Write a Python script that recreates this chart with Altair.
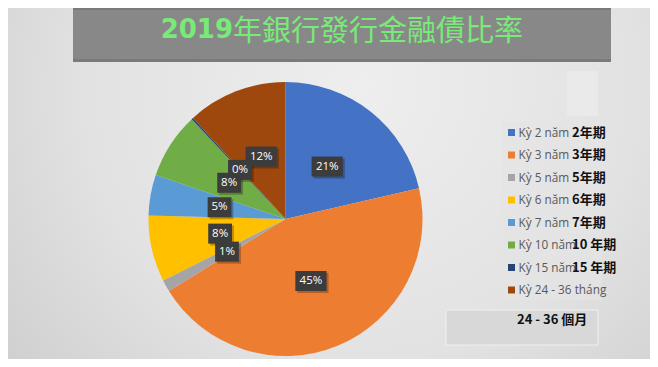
import altair as alt
import pandas as pd

# ---- data ----
categories = ["Kỳ 2 năm", "Kỳ 3 năm", "Kỳ 5 năm", "Kỳ 6 năm", "Kỳ 7 năm",
              "Kỳ 10 năm", "Kỳ 15 năm", "Kỳ 24 - 36 tháng"]
values = [21.4, 44.8, 1.4, 7.8, 4.8, 7.8, 0.2, 11.8]
colors = ["#4472C4", "#ED7D31", "#A5A5A5", "#FFC000", "#5B9BD5",
          "#70AD47", "#264478", "#9E480E"]
cn_labels = ["2年期", "3年期", "5年期", "6年期", "7年期", "10 年期", "15 年期", ""]
title_num = "2019"
title_cn = "年銀行發行金融債比率"
note_text = "24 - 36 個月"

# ---- layout constants ----
W, H = 642, 351
CX, CY, R, LR = 277.5, 211, 137, 67

df = pd.DataFrame({"cat": categories, "value": values,
                   "idx": list(range(len(categories))), "cn": cn_labels})

xs = alt.Scale(domain=[0, W], range=[0, W])
ys = alt.Scale(domain=[0, H], range=[0, H])
lys = alt.Scale(type="point", domain=categories, range=[124.5, 282], padding=0)
cscale = alt.Scale(domain=categories, range=colors)
one = alt.Data(values=[{}])


def box(x1, y1, x2, y2, **kw):
    return alt.Chart(one).mark_rect(**kw).encode(
        x=alt.value(x1), x2=alt.value(x2), y=alt.value(y1), y2=alt.value(y2))


bg = alt.Chart(one).mark_rect(
    color=alt.RadialGradient(
        gradient="radial",
        stops=[alt.GradientStop(color="#eeeeee", offset=0),
               alt.GradientStop(color="#e2e2e2", offset=0.55),
               alt.GradientStop(color="#cacaca", offset=1)],
        x1=0.55, y1=0.35, r1=0, x2=0.55, y2=0.35, r2=0.78)
).encode(x=alt.value(0), x2=alt.value(W), y=alt.value(0), y2=alt.value(H))

banner = box(65, 0, 603, 54, color="#888888")
banner_top = box(65, 0, 603, 2, color="#7a7a7a")
banner_bot = box(65, 51, 603, 54, color="#7a7a7a")
small_box = box(559, 63, 590, 108, color="#ebebeb", opacity=0.8)
legend_panel = box(494, 114, 594, 292, color="#e4e4e4", opacity=0.7)
note_box = box(438, 302, 590, 337, color="#d8d8d8", stroke="#f0f0f0", strokeWidth=1)

title1 = alt.Chart(one).mark_text(
    text=title_num, align="right", baseline="alphabetic", font="DejaVu Sans",
    fontWeight="bold", fontSize=26, color="#78ea78"
).encode(x=alt.value(225), y=alt.value(30))
title2 = alt.Chart(one).mark_text(
    text=title_cn, align="left", baseline="alphabetic", font="Noto Sans CJK TC",
    fontSize=29, color="#78ea78"
).encode(x=alt.value(225), y=alt.value(33))

pie = alt.Chart(df).mark_arc(outerRadius=R).encode(
    theta=alt.Theta("value:Q", stack=True),
    order=alt.Order("idx:Q"),
    color=alt.Color("cat:N", scale=cscale, legend=None),
    x=alt.value(CX), y=alt.value(CY))

lab_base = (alt.Chart(df)
            .transform_joinaggregate(total="sum(value)")
            .transform_window(cum="sum(value)", sort=[alt.SortField("idx")], frame=[None, 0])
            .transform_calculate(mid="(datum.cum - datum.value/2)/datum.total*2*PI")
            .transform_calculate(lx=f"{CX} + {LR}*sin(datum.mid)")
            .transform_calculate(ly=f"{CY} - {LR}*cos(datum.mid)")
            .transform_calculate(pct="format(datum.value/datum.total, '.0%')")
            .transform_calculate(hw="4.5 + 3.7*length(datum.pct)")
            .transform_calculate(bx1="datum.lx - datum.hw", bx2="datum.lx + datum.hw",
                                 by1="datum.ly - 10", by2="datum.ly + 10")
            .transform_calculate(sx1="datum.bx1 + 2", sx2="datum.bx2 + 2",
                                 sy1="datum.by1 + 2", sy2="datum.by2 + 2"))

lab_shadow = lab_base.mark_rect(color="#000000", opacity=0.25).encode(
    x=alt.X("sx1:Q", scale=xs, axis=None), x2="sx2:Q",
    y=alt.Y("sy1:Q", scale=ys, axis=None), y2="sy2:Q")
lab_box = lab_base.mark_rect(color="#3c3c3c").encode(
    x=alt.X("bx1:Q", scale=xs, axis=None), x2="bx2:Q",
    y=alt.Y("by1:Q", scale=ys, axis=None), y2="by2:Q")
lab_text = lab_base.mark_text(color="white", font="Open Sans", fontSize=11.5,
                              baseline="middle", align="center").encode(
    x=alt.X("lx:Q", scale=xs, axis=None),
    y=alt.Y("ly:Q", scale=ys, axis=None),
    text="pct:N")

leg_sq = alt.Chart(df).mark_square(size=49, opacity=1).encode(
    x=alt.value(503.5), y=alt.Y("cat:N", scale=lys, axis=None),
    color=alt.Color("cat:N", scale=cscale, legend=None))
leg_txt = alt.Chart(df).mark_text(align="left", baseline="middle", font="Open Sans",
                                  fontSize=11.8, color="#595959").encode(
    x=alt.value(510.5), y=alt.Y("cat:N", scale=lys, axis=None), text="cat:N")
leg_cn = alt.Chart(df).mark_text(align="left", baseline="middle", font="Noto Sans CJK TC",
                                 fontWeight="bold", fontSize=13, color="#111111").encode(
    x=alt.value(564), y=alt.Y("cat:N", scale=lys, axis=None), text="cn:N")

note = alt.Chart(one).mark_text(
    text=note_text, align="left", baseline="middle", font="Noto Sans CJK TC",
    fontWeight="bold", fontSize=13, color="#111111"
).encode(x=alt.value(509), y=alt.value(312))

chart = alt.layer(
    bg, banner, banner_top, banner_bot, title1, title2, small_box, legend_panel, note_box,
    pie, lab_shadow, lab_box, lab_text, leg_sq, leg_txt, leg_cn, note
).resolve_scale(
    x="independent", y="independent", color="shared"
).properties(
    width=W, height=H, padding=0,
    autosize=alt.AutoSizeParams(type="none")
).configure_view(strokeWidth=0)

chart.save("out.html", embed_options={"renderer": "svg", "actions": False})
